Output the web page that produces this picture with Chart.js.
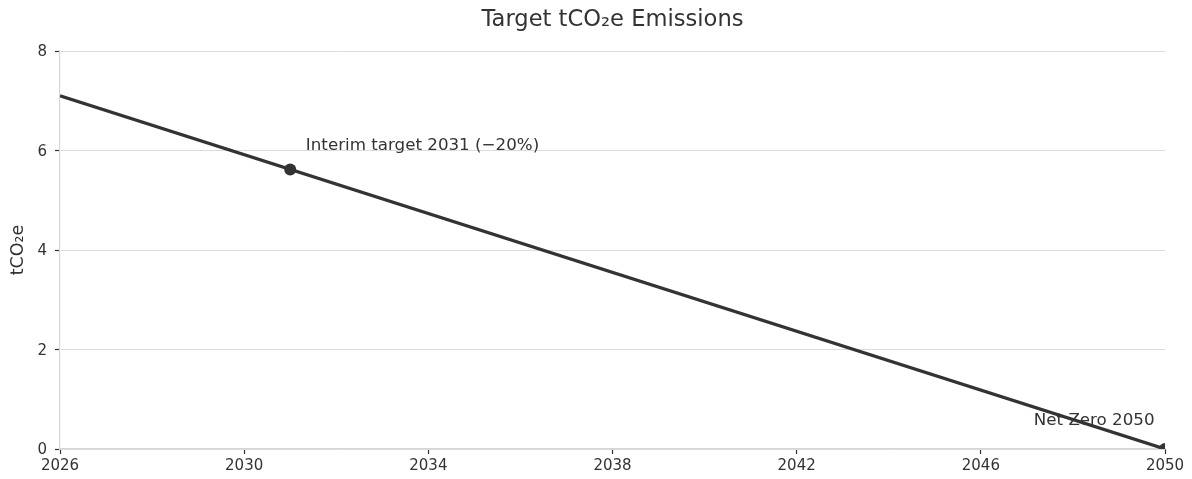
<!DOCTYPE html>
<html>
<head>
<meta charset="utf-8">
<script src="https://cdn.jsdelivr.net/npm/chart.js@4.4.0/dist/chart.umd.min.js"></script>
<style>
  html, body { margin: 0; padding: 0; background: #fff; }
  #wrap { width: 1192px; height: 479px; }
</style>
</head>
<body>
<div id="wrap"><canvas id="c" width="1192" height="479"></canvas></div>
<script>
// data
const lineYears = [2026, 2050];
const lineValues = [7.1, 0];
const markerYears = [2031, 2050];
const markerValues = [5.62, 0];
const labelTexts = ["Interim target 2031 (\u221220%)", "Net Zero 2050"];
const labelYears = [2031.34, 2047.15];
const labelValues = [6.1, 0.56];
const titleText = "Target tCO\u2082e Emissions";

const ink = "#333333";
const font = "'DejaVu Sans', sans-serif";

// title over the plot area + annotation texts at data coordinates
const notesPlugin = {
  id: "notes",
  afterDatasetsDraw(chart) {
    const ctx = chart.ctx;
    const x = chart.scales.x, y = chart.scales.y;
    const area = chart.chartArea;
    ctx.save();
    ctx.fillStyle = ink;
    ctx.textBaseline = "middle";
    ctx.textAlign = "center";
    ctx.font = "22.6px " + font;
    ctx.fillText(titleText, (area.left + area.right) / 2, 20);
    ctx.font = "16.7px " + font;
    ctx.textAlign = "left";
    labelTexts.forEach((t, i) => {
      ctx.fillText(t, x.getPixelForValue(labelYears[i]), y.getPixelForValue(labelValues[i]));
    });
    ctx.restore();
  }
};

new Chart(document.getElementById("c"), {
  type: "line",
  data: {
    datasets: [
      {
        data: lineYears.map((yr, i) => ({ x: yr, y: lineValues[i] })),
        borderColor: ink,
        borderWidth: 3.2,
        pointRadius: 0,
        tension: 0
      },
      {
        data: markerYears.map((yr, i) => ({ x: yr, y: markerValues[i] })),
        showLine: false,
        pointRadius: 6,
        pointBackgroundColor: ink,
        pointBorderColor: ink,
        pointBorderWidth: 0
      }
    ]
  },
  options: {
    responsive: false,
    animation: false,
    layout: { padding: { left: 8, right: 27, top: 51, bottom: 0 } },
    plugins: {
      legend: { display: false },
      tooltip: { enabled: false },
      title: { display: false }
    },
    scales: {
      x: {
        type: "linear",
        min: 2026,
        max: 2050,
        afterFit(s) { s.height = 30; },
        ticks: {
          stepSize: 4,
          color: ink,
          font: { family: font, size: 15 },
          padding: 3,
          callback: v => String(v)
        },
        grid: { drawOnChartArea: false, tickColor: ink, tickLength: 5, tickWidth: 1.2 },
        border: { color: "#d6d6d6", width: 1.2 }
      },
      y: {
        min: 0,
        max: 8,
        afterFit(s) { s.width = 52; },
        ticks: {
          stepSize: 2,
          color: ink,
          font: { family: font, size: 15 },
          padding: 8,
          labelOffset: 1.5
        },
        title: {
          display: true,
          text: "tCO\u2082e",
          color: ink,
          font: { family: font, size: 17.5 },
          padding: 0
        },
        grid: { color: "#dcdcdc", lineWidth: 1, tickColor: ink, tickLength: 5, tickWidth: 1.2 },
        border: { color: "#d6d6d6", width: 1.2 }
      }
    }
  },
  plugins: [notesPlugin]
});
</script>
</body>
</html>
